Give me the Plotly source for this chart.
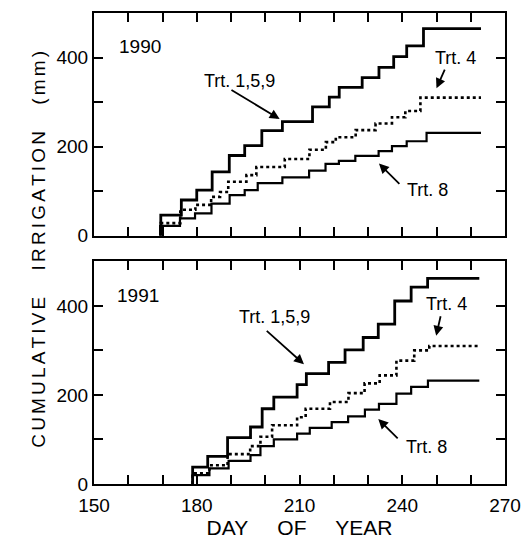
import plotly.graph_objects as go
from plotly.subplots import make_subplots

# 1990 - cumulative irrigation (mm) by day of year, step changes
day_trt159_1990 = [169.5, 169.5, 175.5, 180.0, 184.5, 189.5, 194.0, 199.0, 205.0, 213.8, 218.7, 221.6, 228.3, 233.2, 237.5, 241.3, 246.2, 263.0]
irr_trt159_1990 = [0, 46, 80, 102, 143, 180, 202, 236, 256, 289, 311, 333, 355, 378, 402, 426, 465, 465]

day_trt4_1990 = [169.5, 169.5, 175.2, 179.6, 184.2, 186.8, 189.2, 194.5, 197.4, 205.7, 212.9, 217.7, 220.6, 226.4, 232.2, 237.0, 240.9, 245.3, 263.0]
irr_trt4_1990 = [0, 28, 58, 69, 87, 98, 121, 136, 154, 172, 193, 210, 221, 237, 252, 266, 280, 310, 310]

day_trt8_1990 = [169.3, 169.3, 175.1, 179.5, 184.3, 189.6, 194.0, 197.8, 205.0, 212.8, 217.6, 221.5, 226.3, 233.1, 237.0, 241.3, 247.1, 263.0]
irr_trt8_1990 = [0, 22, 39, 50, 72, 91, 102, 118, 131, 146, 161, 168, 179, 190, 201, 212, 231, 231]

# 1991
day_trt159_1991 = [178.8, 178.8, 183.2, 189.0, 195.7, 199.1, 202.5, 209.3, 212.0, 218.5, 223.3, 228.6, 233.0, 237.8, 242.6, 247.4, 262.5]
irr_trt159_1991 = [0, 38, 62, 104, 128, 169, 195, 223, 248, 273, 301, 329, 359, 411, 442, 462, 462]

day_trt4_1991 = [178.8, 178.8, 183.7, 189.0, 195.6, 198.6, 202.0, 209.3, 211.8, 218.9, 224.3, 229.0, 233.4, 238.3, 243.5, 247.9, 262.5]
irr_trt4_1991 = [0, 24, 42, 67, 85, 106, 132, 150, 169, 184, 204, 226, 244, 277, 300, 310, 310]

day_trt8_1991 = [178.8, 178.8, 183.7, 189.3, 195.7, 198.6, 202.5, 209.3, 213.0, 219.4, 224.2, 229.1, 233.2, 238.3, 242.6, 247.5, 262.5]
irr_trt8_1991 = [0, 20, 35, 52, 65, 85, 100, 113, 126, 139, 152, 167, 180, 203, 218, 232, 232]

x_ticks = list(range(150, 271, 10))
x_labels = [str(v) if v % 30 == 0 else "" for v in x_ticks]
y_ticks = [0, 100, 200, 300, 400]
y_labels = ["0", "", "200", "", "400"]

FONT = "Liberation Sans, Arial, sans-serif"
LS = "\u2006"  # six-per-em space, used as letter spacing in the y title
GAP = "\u00a0\u00a0\u00a0\u00a0 "


def spaced(word):
    return LS.join(word)


fig = make_subplots(rows=2, cols=1, shared_xaxes=True)

panels = [
    (1, day_trt159_1990, irr_trt159_1990, day_trt4_1990, irr_trt4_1990, day_trt8_1990, irr_trt8_1990),
    (2, day_trt159_1991, irr_trt159_1991, day_trt4_1991, irr_trt4_1991, day_trt8_1991, irr_trt8_1991),
]
for row, d1, v1, d4, v4, d8, v8 in panels:
    fig.add_trace(go.Scatter(x=d1, y=v1, mode="lines", line=dict(shape="hv", color="black", width=2.8)), row=row, col=1)
    fig.add_trace(go.Scatter(x=d4, y=v4, mode="lines", line=dict(shape="hv", color="black", width=2.6, dash="3px,3px")), row=row, col=1)
    fig.add_trace(go.Scatter(x=d8, y=v8, mode="lines", line=dict(shape="hv", color="black", width=2.2)), row=row, col=1)

axis_common = dict(showgrid=False, zeroline=False, showline=True, linecolor="black", linewidth=2,
                   mirror="allticks", ticks="inside", ticklen=9, tickwidth=2, tickcolor="black",
                   tickfont=dict(family=FONT, size=19, color="black"))
fig.update_xaxes(range=[150, 270], tickmode="array", tickvals=x_ticks, ticktext=x_labels,
                 ticklabelstandoff=3, **axis_common)
fig.update_yaxes(range=[0, 500], tickmode="array", tickvals=y_ticks, ticktext=y_labels, **axis_common)
fig.update_xaxes(showticklabels=False, row=1, col=1)
fig.update_layout(
    yaxis=dict(domain=[0.5273, 1.0]),
    yaxis2=dict(domain=[0.0, 0.4727]),
    xaxis2=dict(title=dict(text=GAP.join(["DAY", "OF", "YEAR"]),
                           font=dict(family=FONT, size=21, color="black"), standoff=4)),
)


def label(text, x, y, row, size=18):
    xr = "x" if row == 1 else "x2"
    yr = "y" if row == 1 else "y2"
    fig.add_annotation(text=text, x=x, y=y, xref=xr, yref=yr, showarrow=False,
                       font=dict(family=FONT, size=size, color="black"))


def arrow(x0, y0, x1, y1, row):
    xr = "x" if row == 1 else "x2"
    yr = "y" if row == 1 else "y2"
    fig.add_annotation(text="", x=x1, y=y1, ax=x0, ay=y0, xref=xr, yref=yr, axref=xr, ayref=yr,
                       showarrow=True, arrowhead=2, arrowsize=1.1, arrowwidth=1.8, arrowcolor="black")


# top panel
label("1990", 163.3, 424, 1, 19)
label("Trt. 1,5,9", 192.6, 347, 1)
arrow(189.7, 329, 204.2, 262, 1)
label("Trt. 4", 255.5, 398, 1)
arrow(252.6, 376, 250.0, 331, 1)
label("Trt. 8", 247.4, 102, 1)
arrow(239.6, 113, 233.2, 162, 1)

# bottom panel
label("1991", 162.9, 423, 2, 19)
label("Trt. 1,5,9", 202.6, 374, 2)
arrow(200.0, 347, 211.3, 269, 2)
label("Trt. 4", 253.0, 405, 2)
arrow(251.3, 380, 249.9, 333, 2)
label("Trt. 8", 247.2, 83, 2)
arrow(239.1, 99, 233.0, 146, 2)

ytitle = GAP.join(spaced(w) for w in ["CUMULATIVE", "IRRIGATION", "(mm)"])
fig.add_annotation(text=ytitle, xref="paper", yref="paper",
                   x=-0.166, y=0.498, textangle=-90, showarrow=False,
                   font=dict(family=FONT, size=19, color="black"))

fig.update_layout(
    width=532, height=545,
    margin=dict(l=94, r=23, t=11, b=58),
    plot_bgcolor="white", paper_bgcolor="white",
    showlegend=False,
    font=dict(family=FONT, color="black"),
)

fig.write_html("out.html", config={"displayModeBar": False},
               post_script="document.body.style.margin='0';")
